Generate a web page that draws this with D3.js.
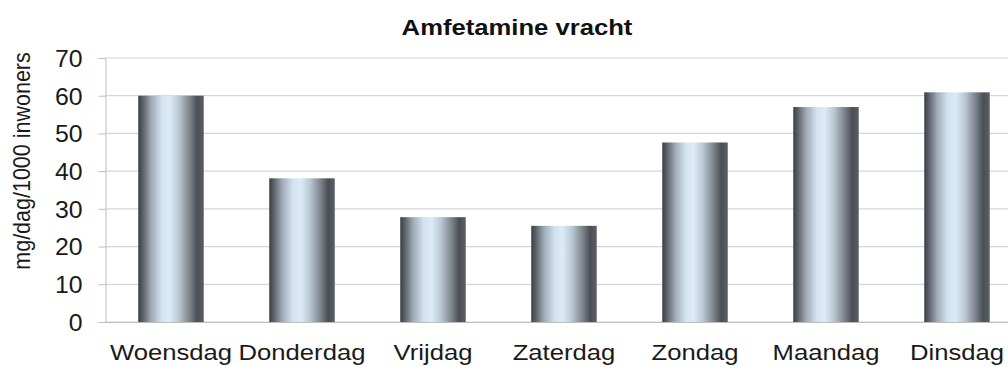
<!DOCTYPE html>
<html>
<head>
<meta charset="utf-8">
<script src="https://cdn.jsdelivr.net/npm/d3@7/dist/d3.min.js"></script>
<style>
  html, body { margin: 0; padding: 0; background: #fff; overflow: hidden; }
  svg { display: block; }
  text { font-family: "Liberation Sans", Arial, sans-serif; fill: #1a1a1a; }
</style>
</head>
<body>
<svg id="chart" width="1008" height="367"></svg>
<script>
const title = "Amfetamine vracht";
const yTitle = "mg/dag/1000  inwoners";
const categories = ["Woensdag", "Donderdag", "Vrijdag", "Zaterdag", "Zondag", "Maandag", "Dinsdag"];
const values = [60.0, 38.1, 27.8, 25.5, 47.6, 57.0, 60.9];
const yTicks = [0, 10, 20, 30, 40, 50, 60, 70];

(function () {
const svg = d3.select("#chart");
const W = 1008, H = 367;
const mLeft = 105.5, mRight = 1022.5, mTop = 58, mBottom = 322;

const x = d3.scaleBand().domain(categories).range([mLeft, mRight]).paddingInner(0.5).paddingOuter(0.25);
const y = d3.scaleLinear().domain([0, 70]).range([mBottom, mTop]);

// gradient
const defs = svg.append("defs");
const grad = defs.append("linearGradient").attr("id", "barGrad").attr("x1", "0%").attr("x2", "100%").attr("y1", "0%").attr("y2", "0%");
[
  [0, "#3a3f45"], [0.07, "#5c626a"], [0.2, "#a0acb7"], [0.36, "#d3e3ef"],
  [0.48, "#dcebf6"], [0.62, "#bac8d3"], [0.78, "#7e858c"], [0.9, "#4a4f55"], [1, "#5b6066"]
].forEach(([o, c]) => grad.append("stop").attr("offset", o).attr("stop-color", c));

// gridlines
svg.append("g").selectAll("line").data(yTicks).join("line")
  .attr("x1", mLeft).attr("x2", W).attr("y1", d => y(d)).attr("y2", d => y(d))
  .attr("stroke", "#d6d6d6").attr("stroke-width", 1.2);

// y axis
const yAxis = svg.append("g").attr("transform", `translate(${mLeft},0)`)
  .call(d3.axisLeft(y).tickValues(yTicks).tickSize(7).tickPadding(0).tickFormat(d3.format("d")));
yAxis.select(".domain").attr("stroke", "#bdbdbd");
yAxis.selectAll(".tick line").attr("stroke", "#bdbdbd");
yAxis.selectAll(".tick text").remove();
yAxis.selectAll(".tick").append("text")
  .attr("transform", `translate(-23,0) scale(1.08,1)`)
  .attr("text-anchor", "end").attr("dy", "0.36em")
  .style("font-size", "23px").style("fill", "#1a1a1a")
  .text(d => d);

// x axis
const xAxis = svg.append("g").attr("transform", `translate(0,${mBottom})`)
  .call(d3.axisBottom(x).tickSize(0).tickPadding(0));
xAxis.select(".domain").attr("stroke", "#bdbdbd");
xAxis.selectAll(".tick text").remove();
xAxis.selectAll(".tick").append("text")
  .attr("transform", `translate(0,37.5) scale(1.14,1)`)
  .attr("text-anchor", "middle")
  .style("font-size", "22.5px").style("fill", "#1a1a1a")
  .text(d => d);

// bars
svg.append("g").selectAll("rect").data(values).join("rect")
  .attr("x", (d, i) => x(categories[i]))
  .attr("width", x.bandwidth())
  .attr("y", d => y(d))
  .attr("height", d => mBottom - y(d))
  .attr("fill", "url(#barGrad)");

// title
svg.append("text")
  .attr("transform", `translate(517,34.5) scale(1.14,1)`)
  .attr("text-anchor", "middle")
  .style("font-size", "22.5px").style("font-weight", "bold").style("fill", "#111")
  .text(title);

// y title
svg.append("text")
  .attr("transform", `translate(30,161) scale(1.1,1) rotate(-90)`)
  .attr("text-anchor", "middle")
  .style("font-size", "21.5px").style("fill", "#1a1a1a")
  .text(yTitle);
})();
</script>
</body>
</html>
